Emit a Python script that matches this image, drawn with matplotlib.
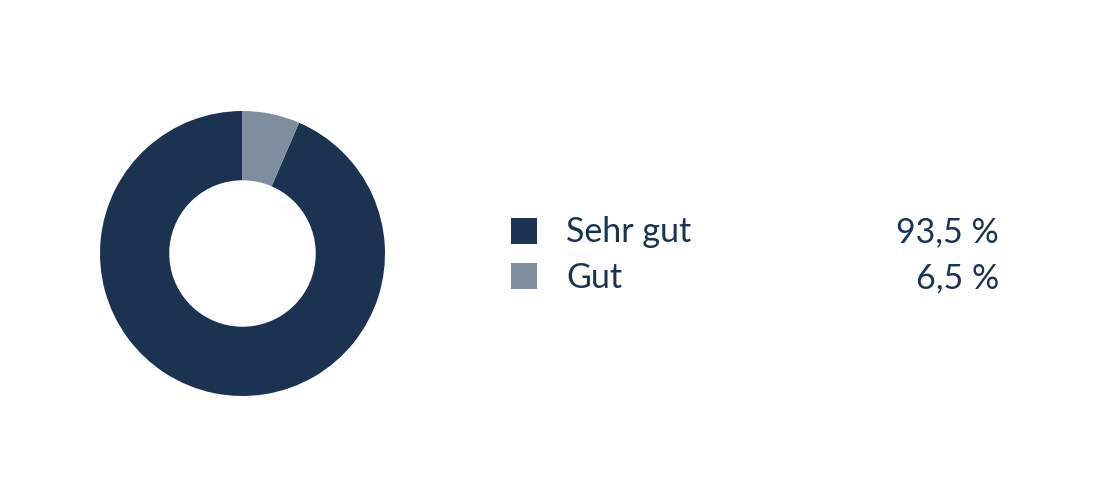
import matplotlib.pyplot as plt
from matplotlib.patches import Rectangle

# Daten
labels = ['Sehr gut', 'Gut']
values = [93.5, 6.5]
value_texts = ['93,5 %', '6,5 %']
colors = ['#1b3351', '#7f8e9e']

plt.rcParams['font.family'] = ['Lato', 'DejaVu Sans']

fig = plt.figure(figsize=(11, 5), dpi=100)

# Donut
ax = fig.add_axes([100 / 1100, 104 / 500, 285 / 1100, 285 / 500])
ax.pie(values, colors=colors, startangle=90, counterclock=True,
       radius=1, wedgeprops=dict(width=0.486, edgecolor='none'))
ax.set_xlim(-1, 1)
ax.set_ylim(-1, 1)
ax.set_aspect('equal')
ax.axis('off')

# Legende
lax = fig.add_axes([0, 0, 1, 1])
lax.set_xlim(0, 1100)
lax.set_ylim(500, 0)
lax.axis('off')
box_y = [218, 263]
base_y = [242, 288]
for lab, txt, col, by, ty in zip(labels, value_texts, colors, box_y, base_y):
    lax.add_patch(Rectangle((511, by), 26, 26, color=col, lw=0))
    lax.text(566, ty, lab, fontsize=24.5, color='#1b3351',
             va='baseline', ha='left')
    lax.text(999, ty, txt, fontsize=24.5, color='#1b3351',
             va='baseline', ha='right')

fig.savefig('out.png', dpi=100)
